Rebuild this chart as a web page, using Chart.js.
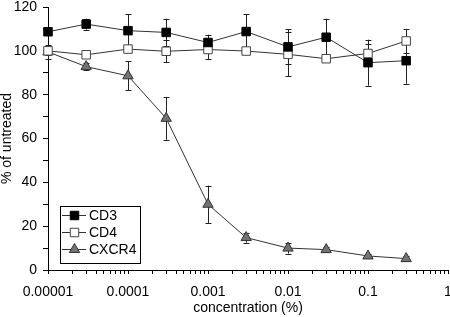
<!DOCTYPE html>
<html>
<head>
<meta charset="utf-8">
<script src="https://cdn.jsdelivr.net/npm/chart.js@4/dist/chart.umd.min.js"></script>
<style>
  html, body { margin: 0; padding: 0; background: #fff; }
  #wrap { width: 450px; height: 317px; }
</style>
</head>
<body>
<div id="wrap"><canvas id="chart"></canvas></div>
<script>
// concentration (%) and % of untreated
const concentrations = [0.00001, 0.00003, 0.0001, 0.0003, 0.001, 0.003, 0.01, 0.03, 0.1, 0.3];
const cd3 = [108.7, 112.2, 109.2, 108.4, 103.8, 108.8, 101.8, 106.2, 94.6, 95.5];
const cd3Err = [1.5, 2.5, 7.6, 6.3, 3.6, 8, 8, 8.5, 10.5, 10.5];
const cd4 = [100, 98.2, 100.8, 99.8, 100.6, 99.9, 98.4, 96.4, 98.8, 104.5];
const cd4Err = [2, 1, 1, 5, 4.5, 1.5, 10, 1.5, 4.5, 5.5];
const cxcr4 = [99.5, 92.8, 88.6, 69.2, 30, 14.8, 10, 9.3, 6.4, 5.2];
const cxcr4Err = [3, 1.5, 6.6, 9.7, 8.5, 2.3, 2.5, 1, 1, 1];

const xTickValues = [0.00001, 0.0001, 0.001, 0.01, 0.1, 1];
const xTickLabels = ['0.00001', '0.0001', '0.001', '0.01', '0.1', '1'];

const FONT = "'Liberation Sans', Arial, sans-serif";
Chart.defaults.font.family = FONT;
Chart.defaults.font.size = 14;
Chart.defaults.color = '#000';

function points(ys) {
  return ys.map((y, i) => ({ x: concentrations[i], y: y }));
}

function drawMarker(ctx, style, x, y, r, fill, stroke) {
  ctx.save();
  ctx.beginPath();
  if (style === 'rect') {
    const s = r * Math.SQRT1_2;
    ctx.rect(x - s, y - s, 2 * s, 2 * s);
  } else {
    let a = 0;
    ctx.moveTo(x + Math.sin(a) * r, y - Math.cos(a) * r);
    a += 2 * Math.PI / 3;
    ctx.lineTo(x + Math.sin(a) * r, y - Math.cos(a) * r);
    a += 2 * Math.PI / 3;
    ctx.lineTo(x + Math.sin(a) * r, y - Math.cos(a) * r);
    ctx.closePath();
  }
  ctx.fillStyle = fill;
  ctx.fill();
  ctx.lineWidth = 1;
  ctx.strokeStyle = stroke;
  ctx.stroke();
  ctx.restore();
}

// vertical error bars with caps, drawn under the markers
const errorBars = {
  id: 'errorBars',
  beforeDatasetsDraw(chart) {
    const ctx = chart.ctx;
    const xs = chart.scales.x, ys = chart.scales.y;
    ctx.save();
    ctx.strokeStyle = '#222';
    ctx.lineWidth = 1;
    chart.data.datasets.forEach(ds => {
      ds.data.forEach((p, i) => {
        const e = ds.errors[i];
        const px = Math.round(xs.getPixelForValue(p.x)) + 0.5;
        const top = ys.getPixelForValue(p.y + e);
        const bot = ys.getPixelForValue(p.y - e);
        ctx.beginPath();
        ctx.moveTo(px, top); ctx.lineTo(px, bot);
        ctx.moveTo(px - 3, Math.round(top) + 0.5); ctx.lineTo(px + 3, Math.round(top) + 0.5);
        ctx.moveTo(px - 3, Math.round(bot) + 0.5); ctx.lineTo(px + 3, Math.round(bot) + 0.5);
        ctx.stroke();
      });
    });
    ctx.restore();
  }
};

// boxed legend inside the plot, line through marker
const boxLegend = {
  id: 'boxLegend',
  afterDraw(chart) {
    const ctx = chart.ctx;
    const area = chart.chartArea;
    const bx = Math.round(area.left) + 12, by = Math.round(area.bottom) - 64, bw = 80, bh = 57;
    ctx.save();
    ctx.fillStyle = '#fff';
    ctx.fillRect(bx, by, bw, bh);
    ctx.strokeStyle = '#000';
    ctx.lineWidth = 1;
    ctx.strokeRect(bx + 0.5, by + 0.5, bw, bh);
    ctx.font = '14px ' + FONT;
    ctx.textBaseline = 'middle';
    chart.data.datasets.forEach((ds, i) => {
      const cy = by + 9 + i * 17;
      ctx.strokeStyle = ds.borderColor;
      ctx.beginPath();
      ctx.moveTo(bx + 2, cy + 0.5);
      ctx.lineTo(bx + 26, cy + 0.5);
      ctx.stroke();
      drawMarker(ctx, ds.pointStyle, bx + 14.5, cy + 0.5, 6, ds.pointBackgroundColor, ds.pointBorderColor);
      ctx.fillStyle = '#000';
      ctx.fillText(ds.label, bx + 29, cy + 1);
    });
    ctx.restore();
  }
};

const datasets = [
  { label: 'CD3', data: points(cd3), errors: cd3Err, pointStyle: 'rect',
    pointBackgroundColor: '#000', pointBorderColor: '#000' },
  { label: 'CD4', data: points(cd4), errors: cd4Err, pointStyle: 'rect',
    pointBackgroundColor: '#fff', pointBorderColor: '#444' },
  { label: 'CXCR4', data: points(cxcr4), errors: cxcr4Err, pointStyle: 'triangle',
    pointBackgroundColor: '#737373', pointBorderColor: '#333' }
].map(d => Object.assign({
  borderColor: '#333',
  borderWidth: 1,
  pointRadius: 6,
  pointHoverRadius: 6,
  pointBorderWidth: 1,
  tension: 0,
  fill: false,
  clip: false
}, d));

new Chart(document.getElementById('chart'), {
  type: 'line',
  data: { datasets: datasets },
  options: {
    responsive: true,
    maintainAspectRatio: false,
    animation: false,
    layout: { autoPadding: false, padding: { top: 7, right: 2, left: 0, bottom: 0 } },
    plugins: { legend: { display: false }, tooltip: { enabled: false } },
    scales: {
      x: {
        type: 'logarithmic',
        min: 0.00001,
        max: 1,
        afterBuildTicks(scale) {
          const t = [];
          for (let d = -5; d < 0; d++) {
            for (let m = 1; m < 10; m++) t.push({ value: m * Math.pow(10, d) });
          }
          t.push({ value: 1 });
          scale.ticks = t;
        },
        afterFit(scale) {
          scale.height = 47;
          scale.paddingLeft = 0;
          scale.paddingRight = 0;
        },
        ticks: {
          autoSkip: false,
          maxRotation: 0,
          padding: 10,
          callback(value) {
            const k = xTickValues.findIndex(v => Math.abs(v - value) / v < 1e-6);
            return k >= 0 ? xTickLabels[k] : '';
          }
        },
        grid: { drawOnChartArea: false, tickLength: 4, color: '#000' },
        border: { color: '#000' },
        title: { display: true, text: 'concentration (%)', padding: { top: 0, bottom: 0 } }
      },
      y: {
        min: 0,
        max: 120,
        afterFit(scale) {
          scale.width = 48;
          scale.paddingTop = 0;
          scale.paddingBottom = 0;
        },
        ticks: {
          stepSize: 10,
          padding: 6,
          callback(value) { return value % 20 === 0 ? value : ''; }
        },
        grid: { drawOnChartArea: false, tickLength: 5, color: '#000' },
        border: { color: '#000' },
        title: { display: true, text: '% of untreated', padding: 0, font: { size: 14, lineHeight: 1 } }
      }
    }
  },
  plugins: [errorBars, boxLegend]
});
</script>
</body>
</html>
